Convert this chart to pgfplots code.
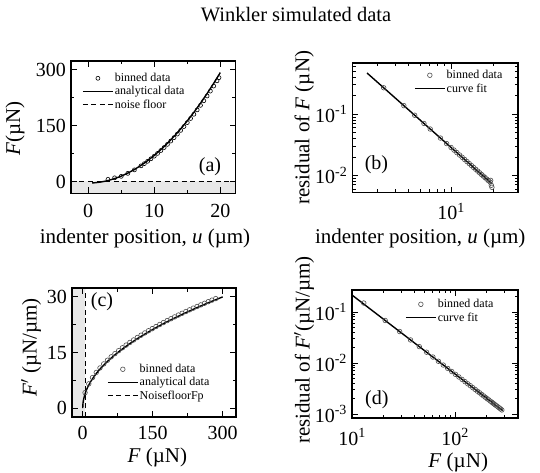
\documentclass[border=0pt]{standalone}
\usepackage{fontspec}
\setmainfont{Liberation Serif}
\usepackage{pgfplots}
\pgfplotsset{compat=1.18}

\pgfplotsset{
  panel/.style={
    scale only axis, axis on top,
    tick align=inside, xtick pos=both, ytick pos=both,
    major tick length=6pt, minor tick length=3.5pt,
    axis line style={line width=1.1pt},
    every tick/.style={line width=0.9pt, black},
    tick label style={font=\fontsize{20}{20}\selectfont},
    xticklabel style={yshift=-7pt},
    yticklabel style={xshift=-1.5pt},
    label style={font=\fontsize{21}{21}\selectfont},
    /pgf/number format/assume math mode=true,
    legend cell align=left,
    legend style={draw=none, fill=none, inner sep=0pt, row sep=1pt,
      font=\fontsize{12}{13}\selectfont, anchor=north west,
      nodes={inner sep=1.2pt}},
    legend image code/.code={\draw[mark repeat=2,mark phase=2,#1]
      plot coordinates {(0pt,0pt) (15pt,0pt) (30pt,0pt)};},
  },
  bin/.style={only marks, mark=o, mark size=2.3pt, black!70, mark options={line width=0.6pt}},
  fit/.style={black, line width=1.4pt, no marks},
  floor/.style={black, line width=1.1pt, dash pattern=on 5pt off 3.5pt, no marks},
}
\tikzset{plab/.style={font=\fontsize{20}{20}\selectfont}}

\begin{document}
\begin{tikzpicture}
\useasboundingbox (0,0) rectangle (540pt,473pt);
\node[font=\fontsize{20.5}{21}\selectfont, anchor=base] at (296pt,451pt) {Winkler simulated data};

% (a) force vs indenter position
\begin{axis}[panel, at={(71pt,279.5pt)}, anchor=south west,
  width=164.5pt, height=132.5pt,
  xmin=-2.6, xmax=22.3, ymin=-31, ymax=324,
  xtick={0,10,20}, ytick={0,150,300}, minor x tick num=1, minor y tick num=1,
  xlabel={indenter position, \textit{u} (µm)}, ylabel={\textit{F}(µN)},
  x label style={at={(axis description cs:0.45,-0.34)}, anchor=center},
  y label style={at={(axis description cs:-0.34,0.49)}, anchor=center},
  legend style={at={(0.067,0.917)}}]
\addplot[fill=black!9, draw=none, forget plot] coordinates {(-2.6,-31) (-2.6,1.5) (22.3,1.5) (22.3,-31) (-2.6,-31)};
\addplot[bin, mark size=2pt, black] coordinates {
(3,7) (4,11) (5,15.0) (6,22.9) (7,32.3) (8,43.1) (8.5,49.0) (9,55.3) (9.5,62.0)
(10,69.0) (10.5,76.4) (11,84.1) (11.5,92.2) (12,100.7) (12.5,109.5) (13,118.7)
(13.5,128.2) (14,138.1) (14.5,148.4) (15,159.0) (15.5,170.0) (16,181.3) (16.5,193.0)
(17,205.1) (17.5,217.5) (18,230.3) (18.5,243.4) (19,256.9) (19.5,270.8) (19.8,279.3)};
\addlegendentry{binned data}
\addplot[fit] coordinates {
(0.6,-2.73) (1,-2.26) (2,-0.04) (3,3.66) (4,8.84) (5,15.5) (6,23.64) (7,33.26)
(8,44.36) (9,56.94) (10,71) (11,86.54) (12,103.56) (13,122.06) (14,142.04)
(15,163.5) (16,186.44) (17,210.86) (18,236.76) (19,264.14) (20,293)};
\addlegendentry{analytical data}
\addplot[floor] coordinates {(-2.6,1.5) (22.3,1.5)};
\addlegendentry{noise floor}
\node[plab] at (axis description cs:0.845,0.2) {(a)};
\end{axis}

% (b) residual of F
\begin{axis}[panel, at={(352.3pt,280.5pt)}, anchor=south west,
  width=165.7pt, height=129.5pt, xmode=log, ymode=log,
  xmin=1.97, xmax=30.1, ymin=0.00526, ymax=0.685,
  xtick={10}, xticklabels={10\textsuperscript{1}},
  minor xtick={3,4,5,6,7,8,9,20},
  ytick={0.01,0.1}, yticklabels={10\textsuperscript{-2},10\textsuperscript{-1}},
  minor ytick={0.006,0.007,0.008,0.009,0.02,0.03,0.04,0.05,0.06,0.07,0.08,0.09,0.2,0.3,0.4,0.5,0.6},
  xlabel={indenter position, \textit{u} (µm)}, ylabel={residual of \textit{F} (µN)},
  x label style={at={(axis description cs:0.41,-0.355)}, anchor=center},
  y label style={at={(axis description cs:-0.29,0.5)}, anchor=center},
  legend style={at={(0.372,0.954)}}]
\addplot[bin] coordinates {
(3.3,0.270) (4.6,0.1378) (5.5,0.0960) (6.4,0.0706) (7.1,0.0572) (8.4,0.0407) (9.3,0.0331)
(10,0.02861) (10.5,0.02591) (11,0.02358) (11.5,0.02156) (12,0.01977) (12.5,0.01820)
(13,0.01681) (13.5,0.01558) (14,0.01447) (14.5,0.01348) (15,0.01259) (15.5,0.01178)
(16,0.01104) (16.5,0.01037) (17,0.00977) (17.5,0.00921) (18,0.00870) (18.5,0.00823)
(19,0.00779) (19.2,0.0083) (19.4,0.0069) (19.6,0.0064)};
\addlegendentry{binned data}
\addplot[fit] coordinates {(2.51,0.47) (19.5,0.0074)};
\addlegendentry{curve fit}
\node[plab] at (axis description cs:0.146,0.212) {(b)};
\end{axis}

% (c) stiffness vs force
\begin{axis}[panel, at={(72pt,56pt)}, anchor=south west,
  width=164pt, height=129pt,
  xmin=-23, xmax=328.5, ymin=-2.4, ymax=32.4,
  xtick={0,150,300}, ytick={0,15,30}, minor x tick num=1, minor y tick num=1,
  xticklabel style={yshift=1.5pt},
  xlabel={\textit{F} (µN)}, ylabel={\textit{F}$'$ (µN/µm)},
  x label style={at={(axis description cs:0.52,-0.315)}, anchor=center},
  y label style={at={(axis description cs:-0.25,0.54)}, anchor=center},
  legend style={at={(0.213,0.419)}}]
\addplot[fill=black!9, draw=none, forget plot] coordinates {(-23,-2.4) (-23,32.4) (5,32.4) (5,-2.4) (-23,-2.4)};
\addplot[bin] coordinates {
(5,4.17) (13,6.55) (21,8.24) (29,9.63) (37,10.84) (45,11.92) (53,12.91) (61,13.83)
(69,14.69) (77,15.50) (85,16.27) (93,17.00) (101,17.71) (109,18.38) (117,19.04)
(125,19.67) (133,20.28) (141,20.87) (149,21.44) (157,22.00) (165,22.55) (173,23.08)
(181,23.60) (189,24.11) (197,24.61) (205,25.10) (213,25.58) (221,26.05) (229,26.51)
(237,26.97) (245,27.41) (253,27.85) (261,28.28) (269,28.71) (277,29.13) (285,29.54)};
\addlegendentry{binned data}
\addplot[fit] coordinates {
(0,0) (0.5,1.22) (1,1.73) (2,2.45) (4,3.46) (7,4.58) (10,5.48) (15,6.71) (20,7.75)
(30,9.49) (40,10.95) (50,12.25) (65,13.96) (80,15.49) (100,17.32) (120,18.97)
(140,20.49) (160,21.91) (180,23.24) (200,24.49) (220,25.69) (240,26.83)
(260,27.93) (280,28.98) (300,30.0)};
\addlegendentry{analytical data}
\addplot[floor] coordinates {(5,-2.4) (5,32.4)};
\addlegendentry{NoisefloorFp}
\node[plab] at (axis description cs:0.183,0.891) {(c)};
\end{axis}

% (d) residual of F'
\begin{axis}[panel, at={(352pt,55pt)}, anchor=south west,
  width=166pt, height=128pt, xmode=log, ymode=log,
  xmin=10, xmax=409, ymin=0.000835, ymax=0.27,
  xtick={10,100}, xticklabels={10\textsuperscript{1},10\textsuperscript{2}},
  minor xtick={20,30,40,50,60,70,80,90,200,300,400},
  ytick={0.001,0.01,0.1}, yticklabels={10\textsuperscript{-3},10\textsuperscript{-2},10\textsuperscript{-1}},
  minor ytick={0.002,0.003,0.004,0.005,0.006,0.007,0.008,0.009,0.02,0.03,0.04,0.05,0.06,0.07,0.08,0.09,0.2},
  xlabel={\textit{F} (µN)}, ylabel={residual of \textit{F}$'$(µN/µm)},
  x label style={at={(axis description cs:0.64,-0.344)}, anchor=center},
  y label style={at={(axis description cs:-0.289,0.53)}, anchor=center},
  legend style={at={(0.319,0.9375)}}]
\addplot[bin] coordinates {
(13,0.150) (21,0.0682) (29,0.0414) (37,0.02836) (45,0.02096) (53,0.01627) (61,0.01309)
(69,0.01081) (77,0.00912) (85,0.00783) (93,0.00681) (101,0.00599) (109,0.00533)
(117,0.00477) (125,0.00431) (133,0.00391) (141,0.00358) (149,0.00328) (157,0.00303)
(165,0.00280) (173,0.00261) (181,0.00243) (189,0.00227) (197,0.00213) (205,0.00200)
(213,0.00189) (221,0.00178) (229,0.00169) (237,0.00160) (245,0.00152) (253,0.00145)
(261,0.00138) (269,0.00132) (277,0.00126) (285,0.00120)};
\addlegendentry{binned data}
\addplot[fit] coordinates {(10,0.215) (292,0.00116)};
\addlegendentry{curve fit}
\node[plab] at (axis description cs:0.15,0.14) {(d)};
\end{axis}
\end{tikzpicture}
\end{document}
